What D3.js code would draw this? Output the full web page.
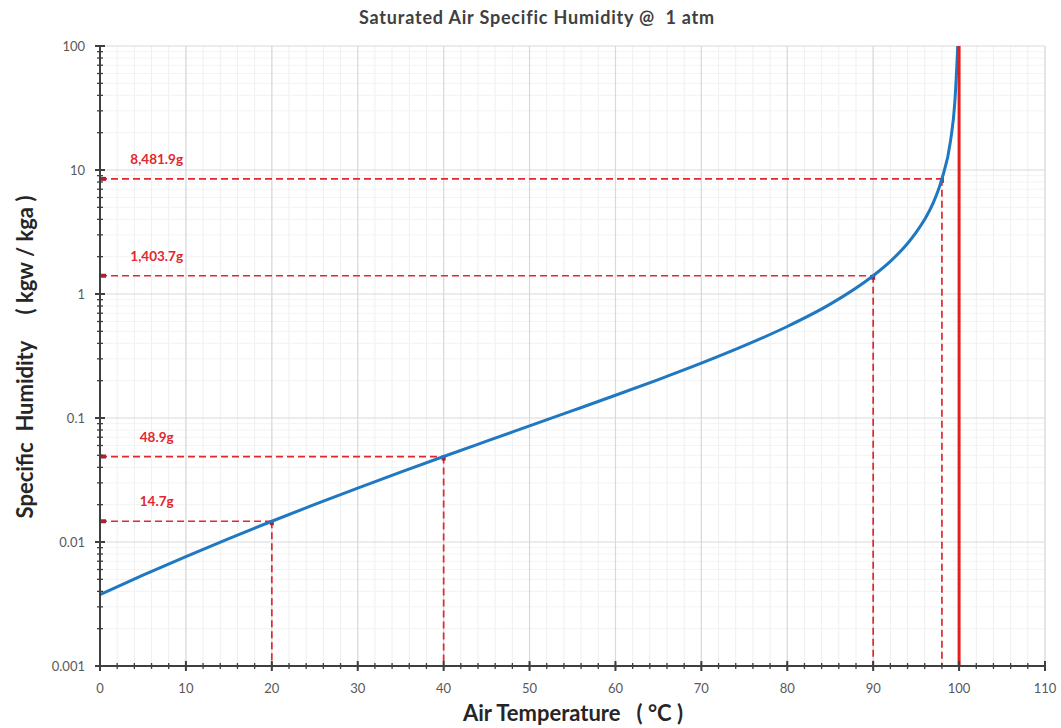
<!DOCTYPE html>
<html>
<head>
<meta charset="utf-8">
<script src="https://cdn.jsdelivr.net/npm/d3@7"></script>
<style>
  body { margin: 0; background: #fff; }
  text { font-family: Lato, "Open Sans", sans-serif; white-space: pre; }
</style>
</head>
<body>
<script>
// temperatura del aire (°C) y humedad especifica saturada (kgw/kga)
var temps = [0, 5, 10, 15, 20, 25, 30, 35, 40, 45, 50, 55, 60, 65, 70, 75, 80, 85, 90, 92, 94, 95, 96, 97, 98, 99, 99.5, 99.8, 99.84];
var humidity = [0.00377, 0.0054, 0.00763, 0.01065, 0.0147, 0.0201, 0.0272, 0.0366, 0.0489, 0.065, 0.0863, 0.1146, 0.1525, 0.2042, 0.2767, 0.3828, 0.547, 0.828, 1.4037, 1.833, 2.555, 3.135, 4.0, 5.45, 8.4819, 17.1, 34.9, 86, 100];

// puntos marcados con lineas punteadas
var markTemps = [20, 40, 90, 98];
var markValues = [0.0147, 0.0489, 1.4037, 8.4819];
var markLabels = ["14.7g", "48.9g", "1,403.7g", "8,481.9g"];

var xTicks = [0, 10, 20, 30, 40, 50, 60, 70, 80, 90, 100, 110];
var yTicks = [0.001, 0.01, 0.1, 1, 10, 100];
var yTickLabels = ["0.001", "0.01", "0.1", "1", "10", "100"];

var width = 1061, height = 728;
var svg = d3.select("body").append("svg")
  .attr("width", width)
  .attr("height", height);

var x = d3.scaleLinear().domain([0, 110]).range([100, 1045]);
var y = d3.scaleLog().domain([0.001, 100]).range([666, 46]);

// ticks menores
var yMinor = [];
yTicks.slice(0, -1).forEach(function(d) {
  for (var k = 2; k <= 9; k++) yMinor.push(d * k);
});
var xMinor = d3.range(0, 111, 2);

// rejilla
var grid = svg.append("g");
grid.selectAll(".vminor").data(xMinor).enter().append("line")
  .attr("x1", d => x(d)).attr("x2", d => x(d))
  .attr("y1", y(100)).attr("y2", y(0.001))
  .attr("stroke", "#efefef").attr("stroke-width", 1);
grid.selectAll(".hminor").data(yMinor).enter().append("line")
  .attr("x1", x(0)).attr("x2", x(110))
  .attr("y1", d => y(d)).attr("y2", d => y(d))
  .attr("stroke", "#f3f3f3").attr("stroke-width", 1);
grid.selectAll(".vmajor").data(xTicks).enter().append("line")
  .attr("x1", d => x(d)).attr("x2", d => x(d))
  .attr("y1", y(100)).attr("y2", y(0.001))
  .attr("stroke", "#d9d9d9").attr("stroke-width", 1.2);
grid.selectAll(".hmajor").data(yTicks).enter().append("line")
  .attr("x1", x(0)).attr("x2", x(110))
  .attr("y1", d => y(d)).attr("y2", d => y(d))
  .attr("stroke", "#d9d9d9").attr("stroke-width", 1.2);

// guias rojas punteadas
var red = "#e0282e";
var guides = svg.append("g");
markTemps.forEach(function(t, i) {
  var v = markValues[i];
  guides.append("line")
    .attr("x1", x(0)).attr("x2", x(t))
    .attr("y1", y(v)).attr("y2", y(v))
    .attr("stroke", red).attr("stroke-width", 1.7)
    .attr("stroke-dasharray", "7,4");
  guides.append("line")
    .attr("x1", x(t)).attr("x2", x(t))
    .attr("y1", y(v)).attr("y2", y(0.001))
    .attr("stroke", red).attr("stroke-width", 1.7)
    .attr("stroke-dasharray", "7,4");
  guides.append("rect")
    .attr("x", x(t) - 2).attr("y", y(v) - 1)
    .attr("width", 4).attr("height", 5)
    .attr("fill", "#b02030");
  guides.append("rect")
    .attr("x", x(0) + 1).attr("y", y(v) - 2)
    .attr("width", 5).attr("height", 4)
    .attr("fill", "#b02030");
  guides.append("text")
    .attr("x", x(6.6)).attr("y", y(v) - 15)
    .attr("text-anchor", "middle")
    .attr("font-size", 13.5).attr("font-weight", "bold")
    .attr("fill", red)
    .text(markLabels[i]);
});

// curva
var line = d3.line()
  .x(function(d, i) { return x(temps[i]); })
  .y(function(d) { return y(d); })
  .curve(d3.curveMonotoneX);
svg.append("path")
  .datum(humidity)
  .attr("d", line)
  .attr("fill", "none")
  .attr("stroke", "#1f78c1")
  .attr("stroke-width", 3);

// punto de ebullicion
svg.append("line")
  .attr("x1", x(100)).attr("x2", x(100))
  .attr("y1", y(100)).attr("y2", y(0.001))
  .attr("stroke", "#e3201e").attr("stroke-width", 3);

// ejes
var axisColor = "#3f3f3f";
var xAxis = svg.append("g").attr("transform", "translate(0," + y(0.001) + ")");
xAxis.append("line").attr("x1", x(0)).attr("x2", x(110))
  .attr("stroke", axisColor).attr("stroke-width", 2);
xAxis.selectAll(".mt").data(xMinor).enter().append("line")
  .attr("x1", d => x(d)).attr("x2", d => x(d))
  .attr("y1", -3).attr("y2", 3)
  .attr("stroke", axisColor).attr("stroke-width", 1.3);
xAxis.selectAll(".Mt").data(xTicks).enter().append("line")
  .attr("x1", d => x(d)).attr("x2", d => x(d))
  .attr("y1", -5).attr("y2", 5)
  .attr("stroke", axisColor).attr("stroke-width", 2);
xAxis.selectAll("text").data(xTicks).enter().append("text")
  .attr("x", d => x(d)).attr("y", 27)
  .attr("text-anchor", "middle")
  .attr("font-size", 13).attr("fill", "#595959")
  .text(d => d);

var yAxis = svg.append("g").attr("transform", "translate(" + x(0) + ",0)");
yAxis.append("line").attr("y1", y(100)).attr("y2", y(0.001))
  .attr("stroke", axisColor).attr("stroke-width", 2);
yAxis.selectAll(".mt").data(yMinor).enter().append("line")
  .attr("y1", d => y(d)).attr("y2", d => y(d))
  .attr("x1", -3).attr("x2", 3)
  .attr("stroke", axisColor).attr("stroke-width", 1.3);
yAxis.selectAll(".Mt").data(yTicks).enter().append("line")
  .attr("y1", d => y(d)).attr("y2", d => y(d))
  .attr("x1", -5).attr("x2", 5)
  .attr("stroke", axisColor).attr("stroke-width", 2);
yAxis.selectAll("text").data(yTicks).enter().append("text")
  .attr("x", -15).attr("y", d => y(d) + 4.5)
  .attr("text-anchor", "end")
  .attr("font-size", 13).attr("fill", "#595959")
  .text((d, i) => yTickLabels[i]);

// titulos
svg.append("text")
  .attr("x", 537).attr("y", 24)
  .attr("text-anchor", "middle")
  .attr("font-size", 18).attr("font-weight", "bold").attr("fill", "#404040")
  .attr("letter-spacing", 0.8)
  .text("Saturated Air Specific Humidity @  1 atm");

svg.append("text")
  .attr("x", 573).attr("y", 721)
  .attr("text-anchor", "middle")
  .attr("font-size", 22).attr("font-weight", "bold").attr("fill", "#262626")
  .text("Air Temperature   ( \u00B0C )");

svg.append("text")
  .attr("transform", "translate(33,357) rotate(-90)")
  .attr("text-anchor", "middle")
  .attr("font-size", 22).attr("font-weight", "bold").attr("fill", "#262626")
  .text("Specific  Humidity     ( kgw / kga )");
</script>
</body>
</html>
